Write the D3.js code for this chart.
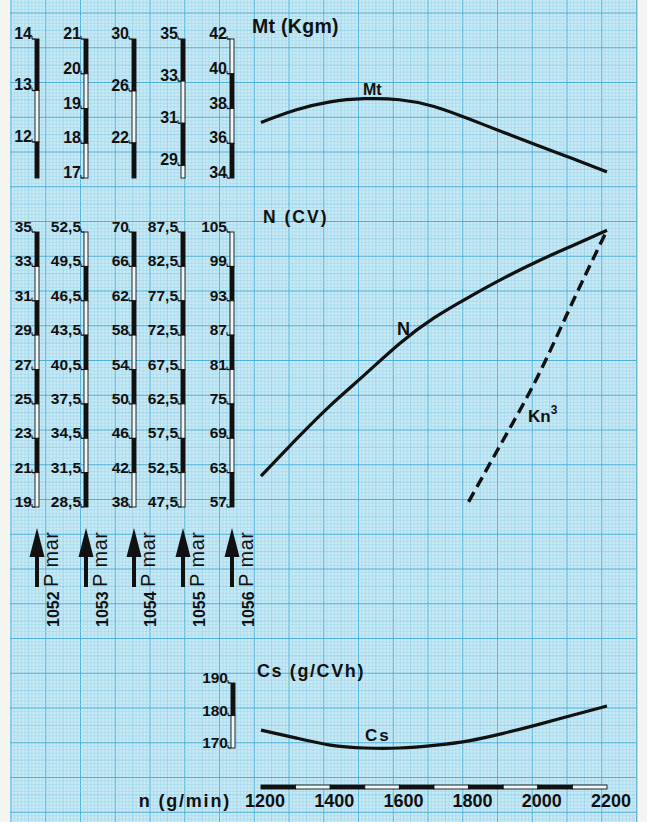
<!DOCTYPE html>
<html><head><meta charset="utf-8">
<script src="https://cdn.jsdelivr.net/npm/d3@7"></script>
<style>
body{margin:0;background:#f4f4f1}
svg{display:block}
text{font-family:"Liberation Sans",Arial,sans-serif;fill:#111}
</style>
</head><body>
<svg id="c" width="647" height="822"></svg>
<script>
// ---------- DATA ----------
const rpm = [1200,1300,1400,1500,1600,1700,1800,1900,2000,2100,2200];
const mtValues = [12.38,12.62,12.78,12.84,12.82,12.69,12.45,12.19,11.93,11.68,11.42]; // kgm, engine 1052 scale
const nValues = [20.8,22.9,24.9,26.7,28.5,30.0,31.2,32.3,33.3,34.2,35.1];         // CV, engine 1052 scale
const kn3Rpm = [1800,1900,2000,2100,2200];
const kn3Values = [19.3,22.9,26.6,30.9,35.1];
const csValues = [175.5,173.1,170.9,170.0,170.0,170.8,172.2,174.5,177.2,180.1,182.9]; // g/CVh
const xTicks = [1200,1400,1600,1800,2000,2200];
const engines = ["1052","1053","1054","1055","1056"];
const mtTicks = [[14,13,12],[21,20,19,18,17],[30,26,22],[35,33,31,29],[42,40,38,36,34]];
const mtBarEnd = [11.3,17,19.3,28.4,34];   // value at the foot of each Mt scale bar
const nTicks = [
  [35,33,31,29,27,25,23,21,19],
  [52.5,49.5,46.5,43.5,40.5,37.5,34.5,31.5,28.5],
  [70,66,62,58,54,50,46,42,38],
  [87.5,82.5,77.5,72.5,67.5,62.5,57.5,52.5,47.5],
  [105,99,93,87,81,75,69,63,57]
];
const csTicks = [190,180,170];

// ---------- LAYOUT / STYLE ----------
const W = 647, H = 822;
const colX = [37,86,134,183,232];
const mtStartBlack = [true,true,true,true,false];
const nStartBlack = [true,false,true,true,false];
const svg = d3.select("#c");

// graph paper
svg.append("rect").attr("x",10).attr("y",0).attr("width",627).attr("height",H).attr("fill","#c9e9f4");
const grid = svg.append("g");
const sub = 34.75/10;
const gridColor = k => k===0?"#4eb0da":(k===5?"#7cc8e6":"#9ed6ec");
for (let i=-10;i<=200;i++){
  const x = 11 + i*sub; if (x<10 || x>637) continue;
  const k = ((i%10)+10)%10;
  grid.append("line").attr("x1",x).attr("x2",x).attr("y1",0).attr("y2",H)
    .attr("stroke", gridColor(k)).attr("stroke-width", k===0?1:0.6);
}
for (let i=-10;i<=260;i++){
  const y = 13 + i*sub; if (y<0 || y>H) continue;
  const k = ((i%10)+10)%10;
  grid.append("line").attr("x1",10).attr("x2",637).attr("y1",y).attr("y2",y)
    .attr("stroke", gridColor(k)).attr("stroke-width", k===0?1:0.6);
}
svg.append("line").attr("x1",637).attr("x2",637).attr("y1",0).attr("y2",H).attr("stroke","#9ab").attr("stroke-width",0.8);

// scales
const x = d3.scaleLinear().domain([1200,2200]).range([261,607]);
const mtScales = mtTicks.map((t,i)=>d3.scaleLinear().domain([t[0],mtBarEnd[i]]).range([39,178]));
const nScales = nTicks.map(t=>d3.scaleLinear().domain([t[0],t[t.length-1]]).range([232,507]));
const csScale = d3.scaleLinear().domain([190,170]).range([683,748]);

const fmt = v => String(v).replace(".", ",");

function drawBar(g, cx, ys, startBlack){
  for (let i=0;i<ys.length-1;i++){
    const black = (i%2===0) === startBlack;
    g.append("rect").attr("x",cx-2).attr("y",ys[i]).attr("width",4).attr("height",ys[i+1]-ys[i])
      .attr("fill", black?"#111":"#eef7fa").attr("stroke","#111").attr("stroke-width",0.9);
  }
}
function drawScale(g, cx, scale, ticks, barTop, barBot, startBlack, fs){
  const ys = [barTop, ...ticks.map(scale), barBot].map(v=>Math.round(v*10)/10);
  const uniq = Array.from(new Set(ys)).sort((a,b)=>a-b);
  drawBar(g, cx, uniq, startBlack);
  ticks.forEach(t=>{
    const y = scale(t);
    g.append("line").attr("x1",cx-5).attr("x2",cx-2).attr("y1",y).attr("y2",y).attr("stroke","#111").attr("stroke-width",1.3);
    g.append("line").attr("x1",cx-5).attr("x2",cx-5).attr("y1",y-3).attr("y2",y).attr("stroke","#111").attr("stroke-width",1);
    g.append("text").attr("x",cx-5).attr("y",y).attr("text-anchor","end")
      .attr("font-size",fs).attr("font-weight","bold").text(fmt(t));
  });
}

const sc = svg.append("g");
mtTicks.forEach((t,i)=>drawScale(sc, colX[i], mtScales[i], t, 39, 178, mtStartBlack[i], 16));
nTicks.forEach((t,i)=>drawScale(sc, colX[i], nScales[i], t, 232, 507, nStartBlack[i], 15.5));
drawScale(sc, 233, csScale, csTicks, 683, 748, true, 15.5);

// arrows + labels
engines.forEach((e,i)=>{
  const cx = colX[i];
  sc.append("path").attr("d",`M${cx},528 L${cx+7.5},557 L${cx+2},557 L${cx+2},587 L${cx-2},587 L${cx-2},557 L${cx-7.5},557 Z`).attr("fill","#111");
  sc.append("text").attr("transform",`translate(${cx+21},587) rotate(-90)`).attr("font-size",20).attr("letter-spacing",0.5).text("P mar");
  sc.append("text").attr("transform",`translate(${cx+22},627) rotate(-90)`).attr("font-size",16).attr("font-weight","bold").text(e);
});

// curves
const lineMt = d3.line().x((d,i)=>x(rpm[i])).y(d=>mtScales[0](d)).curve(d3.curveNatural);
const lineN = d3.line().x((d,i)=>x(rpm[i])).y(d=>nScales[0](d)).curve(d3.curveNatural);
const lineK = d3.line().x((d,i)=>x(kn3Rpm[i])).y(d=>nScales[0](d)).curve(d3.curveNatural);
const lineCs = d3.line().x((d,i)=>x(rpm[i])).y(d=>csScale(d)).curve(d3.curveNatural);
const cg = svg.append("g").attr("fill","none").attr("stroke","#111").attr("stroke-linecap","butt");
cg.append("path").attr("d",lineMt(mtValues)).attr("stroke-width",3.2);
cg.append("path").attr("d",lineN(nValues)).attr("stroke-width",3.2);
cg.append("path").attr("d",lineK(kn3Values)).attr("stroke-width",3.4).attr("stroke-dasharray","11,6");
cg.append("path").attr("d",lineCs(csValues)).attr("stroke-width",3.2);

// x axis scale bar
const ax = svg.append("g");
const segs = d3.range(1200,2200,100);
segs.forEach((s,i)=>{
  ax.append("rect").attr("x",x(s)).attr("y",785).attr("width",x(s+100)-x(s)).attr("height",4)
    .attr("fill", i%2===0?"#111":"#eef7fa").attr("stroke","#111").attr("stroke-width",0.9);
});
xTicks.forEach(t=>{
  ax.append("text").attr("x",x(t)+4).attr("y",807).attr("text-anchor","middle")
    .attr("font-size",18).attr("font-weight","bold").text(t);
});

// titles
const tg = svg.append("g").attr("font-weight","bold");
tg.append("text").attr("x",252).attr("y",33).attr("font-size",19.5).attr("letter-spacing",0.3).text("Mt (Kgm)");
tg.append("text").attr("x",263).attr("y",223).attr("font-size",17.5).attr("letter-spacing",2).text("N (CV)");
tg.append("text").attr("x",257).attr("y",677).attr("font-size",18).attr("letter-spacing",1.6).text("Cs (g/CVh)");
tg.append("text").attr("x",231).attr("y",807).attr("text-anchor","end").attr("font-size",18).attr("letter-spacing",1.8).text("n (g/min)");
tg.append("text").attr("x",363).attr("y",95).attr("font-size",16).text("Mt");
tg.append("text").attr("x",397).attr("y",335).attr("font-size",18).text("N");
const kt = tg.append("text").attr("x",528).attr("y",422).attr("font-size",17);
kt.append("tspan").text("Kn");
kt.append("tspan").attr("dy",-8).attr("font-size",12).text("3");
tg.append("text").attr("x",365).attr("y",741).attr("font-size",17).attr("letter-spacing",2).text("Cs");
</script>
</body></html>
